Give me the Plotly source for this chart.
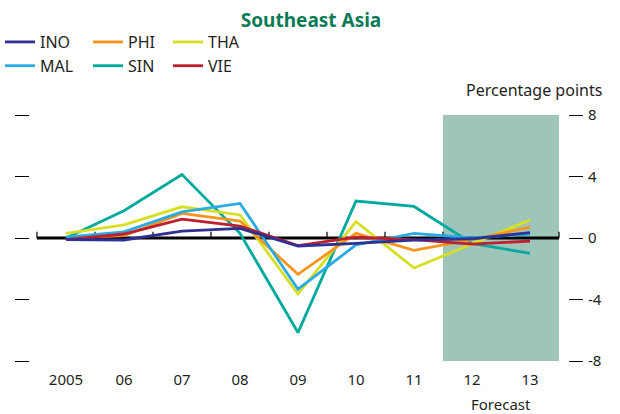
import plotly.graph_objects as go

years = ["2005", "06", "07", "08", "09", "10", "11", "12", "13"]
forecast_start = 7  # index of first forecast year ("12")

INO = [-0.10, -0.13, 0.45, 0.63, -0.52, -0.35, -0.13, -0.05, 0.35]
MAL = [0.05, 0.40, 1.70, 2.25, -3.33, -0.45, 0.30, 0.00, 0.26]
PHI = [0.00, 0.15, 1.60, 1.10, -2.36, 0.30, -0.80, -0.10, 0.70]
SIN = [0.00, 1.77, 4.13, 0.30, -6.15, 2.40, 2.05, -0.35, -1.00]
THA = [0.30, 0.85, 2.03, 1.50, -3.64, 1.06, -1.95, -0.40, 1.17]
VIE = [-0.10, 0.26, 1.23, 0.78, -0.50, 0.05, -0.10, -0.40, -0.20]

y_ticks = [8, 4, 0, -4, -8]
y_ticktext = ["8", "4", "0", "-4", "-8"]

series = [
    ("INO", INO, "#2e3192", "legend"),
    ("MAL", MAL, "#29abe2", "legend"),
    ("PHI", PHI, "#f7941d", "legend2"),
    ("SIN", SIN, "#00a99d", "legend2"),
    ("THA", THA, "#d7df23", "legend3"),
    ("VIE", VIE, "#be1e2d", "legend3"),
]
legend_order = [s[0] for s in series]

FONT = "Noto Sans"
TXT = "#231f20"

fig = go.Figure()
xs = list(range(len(years)))
draw_order = ["SIN", "THA", "PHI", "MAL", "VIE", "INO"]
lookup = {s[0]: s for s in series}
for name in draw_order:
    n, vals, col, lg = lookup[name]
    fig.add_trace(go.Scatter(
        x=xs, y=vals, mode="lines", name=n,
        line=dict(color=col, width=2.8),
        legend=lg,
        legendrank=legend_order.index(n),
        hoverinfo="skip",
    ))

# invisible trace to activate right axis
fig.add_trace(go.Scatter(x=[xs[0]], y=[0], yaxis="y2", mode="markers",
                         marker=dict(opacity=0), showlegend=False, hoverinfo="skip"))

shapes = []
# forecast shading
shapes.append(dict(type="rect", xref="x", yref="y",
                   x0=forecast_start - 0.5, x1=len(years) - 0.5, y0=-8, y1=8,
                   fillcolor="#9dc5b9", line=dict(width=0), layer="below"))
# zero line
shapes.append(dict(type="line", xref="x", yref="y",
                   x0=-0.5, x1=len(years) - 0.5, y0=0, y1=0,
                   line=dict(color="black", width=3), layer="below"))
# small upward ticks on zero line
for i in range(len(years) + 1):
    shapes.append(dict(type="line", xref="x", yref="y",
                       x0=i - 0.5, x1=i - 0.5, y0=0, y1=0.4,
                       line=dict(color="black", width=1.2), layer="below"))

legend_common = dict(orientation="v", xref="container", yref="container",
                     yanchor="top", xanchor="left",
                     font=dict(family=FONT, size=16, color=TXT),
                     bgcolor="rgba(0,0,0,0)", tracegroupgap=0,
                     itemwidth=30)

LY = 1 - 25 / 414
fig.update_layout(
    width=620, height=414,
    margin=dict(l=30, r=52, t=115, b=53, autoexpand=False),
    paper_bgcolor="white", plot_bgcolor="white",
    title=dict(text="<b>Southeast Asia</b>", x=311 / 620, xanchor="center",
               xref="container", yref="container", y=1 - 20 / 414, yanchor="middle",
               font=dict(family=FONT, size=19, color="#0b7a57")),
    xaxis=dict(range=[-0.62, 8.655], tickmode="array", tickvals=xs, ticktext=years,
               showgrid=False, zeroline=False, showline=False, ticks="",
               ticklabelstandoff=8,
               tickfont=dict(family=FONT, size=15, color=TXT)),
    yaxis=dict(range=[-8, 8], tickvals=y_ticks, showticklabels=False,
               ticks="outside", ticklen=14, tickwidth=1.2, tickcolor="black",
               showgrid=False, zeroline=False, showline=False),
    yaxis2=dict(range=[-8, 8], overlaying="y", side="right", tickvals=y_ticks,
                ticktext=y_ticktext, ticks="outside", ticklen=14, tickwidth=1.2,
                tickcolor="black", showgrid=False, zeroline=False, showline=False,
                ticklabelstandoff=2,
                tickfont=dict(family=FONT, size=15, color=TXT)),
    shapes=shapes,
    legend=dict(x=0.0, y=LY, **legend_common),
    legend2=dict(x=88 / 620, y=LY, **legend_common),
    legend3=dict(x=168 / 620, y=LY, **legend_common),
    annotations=[
        dict(text="Percentage points", xref="paper", yref="paper",
             x=(604 - 30) / 538, y=(361 - 90) / 246, xanchor="right", yanchor="middle",
             showarrow=False, font=dict(family=FONT, size=16, color=TXT)),
        dict(text="Forecast", xref="x", yref="paper",
             x=forecast_start + 0.5, y=(361 - 404) / 246, xanchor="center", yanchor="middle",
             showarrow=False, font=dict(family=FONT, size=15, color=TXT)),
    ],
    showlegend=True,
)

fig.write_html("out.html", post_script="document.body.style.margin='0';",
               config={"displayModeBar": False})
